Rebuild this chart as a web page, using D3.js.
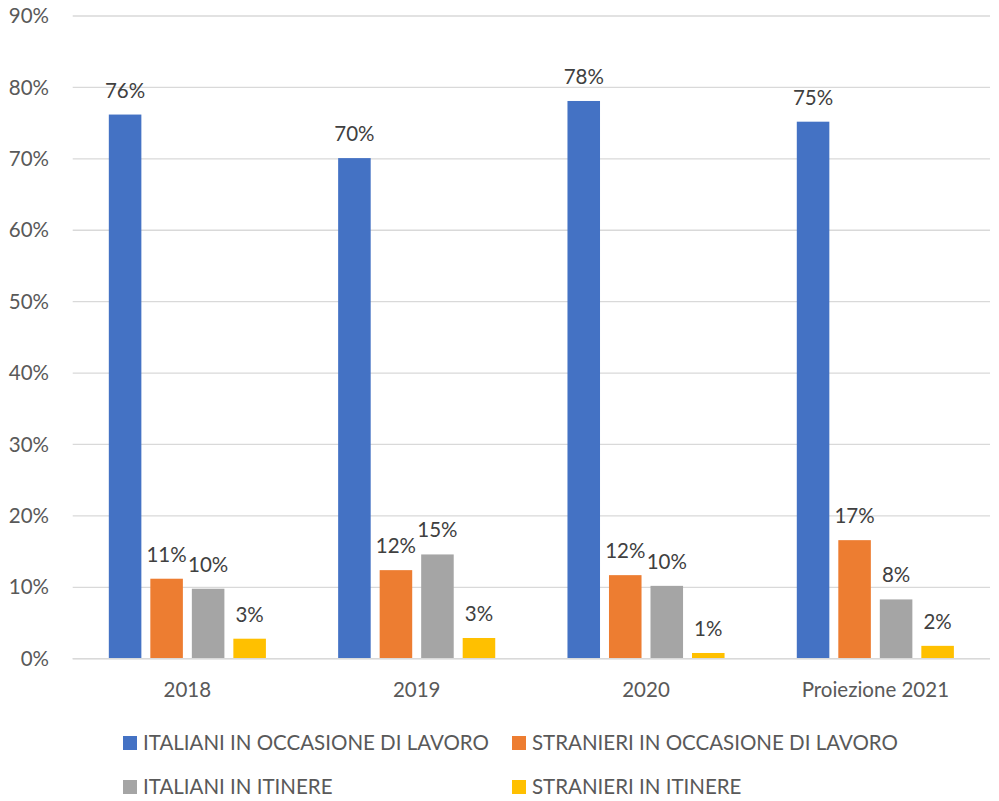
<!DOCTYPE html>
<html><head><meta charset="utf-8">
<script src="https://cdn.jsdelivr.net/npm/d3@7"></script>
<style>body{margin:0;background:#fff}svg{display:block}text{font-family:Lato,"Open Sans",sans-serif}</style>
</head><body><div id="chart"></div>
<script>
const categories = ["2018","2019","2020","Proiezione 2021"];
const seriesNames = ["ITALIANI IN OCCASIONE DI LAVORO","STRANIERI IN OCCASIONE DI LAVORO","ITALIANI IN ITINERE","STRANIERI IN ITINERE"];
const seriesColors = ["#4472C4","#ED7D31","#A5A5A5","#FFC000"];
const italianiLavoro = [76.2, 70.1, 78.1, 75.2];
const stranieriLavoro = [11.2, 12.4, 11.7, 16.6];
const italianiItinere = [9.8, 14.6, 10.2, 8.3];
const stranieriItinere = [2.8, 2.9, 0.8, 1.8];
const yTicks = [0,10,20,30,40,50,60,70,80,90];

const seriesValues = [italianiLavoro, stranieriLavoro, italianiItinere, stranieriItinere];
const W = 999, H = 801;
const FS = 20.5;
const svg = d3.select("#chart").append("svg").attr("width", W).attr("height", H);

const left = 72.7, right = 990;
const y = d3.scaleLinear().domain([0, 90]).range([658.7, 16]);
const x0 = d3.scaleBand().domain(categories).range([left, right]).padding(0);
const x1 = d3.scaleBand().domain(d3.range(4)).range([0, x0.bandwidth()]).paddingInner(0.216).paddingOuter(0.87);

// gridlines
svg.append("g").selectAll("line").data(yTicks).join("line")
  .attr("x1", left).attr("x2", right)
  .attr("y1", d => y(d)).attr("y2", d => y(d))
  .attr("stroke", "#d9d9d9").attr("stroke-width", 1.3);

// y labels
svg.append("g").selectAll("text").data(yTicks).join("text")
  .attr("x", 49).attr("y", d => y(d)).attr("dy", "0.35em")
  .attr("text-anchor", "end").attr("font-size", FS).attr("fill", "#595959")
  .text(d => d + "%");

// bars
const groups = svg.append("g").selectAll("g").data(categories).join("g")
  .attr("transform", c => `translate(${x0(c)},0)`);
groups.each(function(c, ci) {
  const g = d3.select(this);
  const vals = seriesValues.map((s, si) => ({si, v: s[ci]}));
  g.selectAll("rect").data(vals).join("rect")
    .attr("x", d => x1(d.si)).attr("width", x1.bandwidth())
    .attr("y", d => y(d.v)).attr("height", d => y(0) - y(d.v))
    .attr("fill", d => seriesColors[d.si]);
  g.selectAll("text").data(vals).join("text")
    .attr("x", d => x1(d.si) + x1.bandwidth() / 2)
    .attr("y", d => y(d.v) - 17)
    .attr("text-anchor", "middle").attr("font-size", FS).attr("fill", "#404040")
    .text(d => Math.round(d.v) + "%");
});

// baseline
svg.append("line").attr("x1", left).attr("x2", right).attr("y1", y(0)).attr("y2", y(0))
  .attr("stroke", "#d9d9d9").attr("stroke-width", 1.5);

// category labels
svg.append("g").selectAll("text").data(categories).join("text")
  .attr("x", c => x0(c) + x0.bandwidth() / 2).attr("y", 697)
  .attr("text-anchor", "middle").attr("font-size", FS).attr("fill", "#595959")
  .text(c => c);

// legend
const legendPos = [[123, 743], [512, 743], [123, 787], [512, 787]];
const lg = svg.append("g").selectAll("g").data(seriesNames).join("g")
  .attr("transform", (d, i) => `translate(${legendPos[i][0]},${legendPos[i][1]})`);
lg.append("rect").attr("x", 0).attr("y", -7).attr("width", 14).attr("height", 14)
  .attr("fill", (d, i) => seriesColors[i]);
lg.append("text").attr("x", 20).attr("y", 0).attr("dy", "0.35em")
  .attr("font-size", FS).attr("fill", "#595959").text(d => d);
</script></body></html>
